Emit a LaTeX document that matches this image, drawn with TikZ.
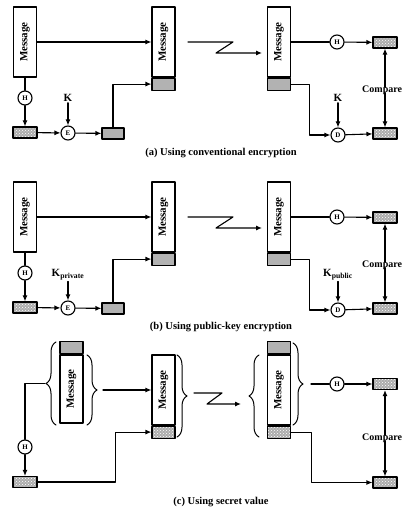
\documentclass[tikz,border=0pt]{standalone}
\usepackage{fontspec}
\setmainfont{Liberation Serif}
\usetikzlibrary{arrows.meta,patterns,decorations.pathreplacing,positioning}

\begin{document}
\begin{tikzpicture}[
    x=1pt, y=-1pt,
    line cap=round,
    line join=round,
    every node/.style={font=\bfseries},
    msgbox/.style={draw, line width=1.1pt, fill=white, minimum width=23pt, inner sep=0pt, font=\bfseries\fontsize{11}{12}\selectfont},
    sigbox/.style={draw, line width=1.1pt, fill=gray!60, minimum width=23pt, minimum height=12pt, inner sep=0pt},
    hashbox/.style={draw, line width=1.1pt, minimum width=24pt, minimum height=11pt, inner sep=0pt,
        preaction={fill=gray!65}, pattern=crosshatch dots, pattern color=white},
    fn/.style={circle, draw, line width=1.1pt, fill=white, minimum size=14pt, inner sep=0pt, font=\bfseries\fontsize{7}{8}\selectfont},
    keylbl/.style={inner sep=1pt, font=\bfseries\fontsize{11}{12}\selectfont},
    cmplbl/.style={inner sep=0pt, anchor=west, font=\bfseries\fontsize{10}{12}\selectfont},
    wire/.style={line width=1.1pt},
    arr/.style={wire, -{Latex[length=6pt,width=5pt]}},
    brc/.style={decorate, decoration={brace, amplitude=10pt}, line width=1pt},
    caption/.style={font=\bfseries\fontsize{10.5}{12}\selectfont}
]
\path[use as bounding box, clip] (0,0) rectangle (404,510);

% (a) conventional encryption
\begin{scope}
  \node[msgbox, minimum height=70pt] (msg1a) at (25,42) {\rotatebox{90}{Message}};
  \node[fn] (h1a) at (25,98) {H};
  \node[hashbox] (hash1a) at (25,132.5) {};
  \node[fn] (ea) at (68,133) {E};
  \node[keylbl] (ka) at (68,98) {K};
  \node[sigbox, minimum width=22pt, minimum height=11pt] (sig1a) at (113,133.5) {};
  \node[msgbox, minimum height=70pt] (msg2a) at (163.5,42) {\rotatebox{90}{Message}};
  \node[sigbox, anchor=north] (sig2a) at (msg2a.south) {};
  \node[msgbox, minimum height=70pt] (msg3a) at (279,42) {\rotatebox{90}{Message}};
  \node[sigbox, anchor=north] (sig3a) at (msg3a.south) {};
  \node[fn] (h3a) at (337,42) {H};
  \node[hashbox] (cmp1a) at (385,42.5) {};
  \node[fn] (da) at (338,135) {D};
  \node[keylbl] (k3a) at (338,98) {K};
  \node[hashbox] (cmp2a) at (385,133.5) {};
  \node[cmplbl] (cmpa) at (362,90) {Compare};
  \node[caption] (capa) at (221,153) {(a) Using conventional encryption};

  \coordinate (za1) at (188,42);
  \coordinate (za2) at (233,42);
  \coordinate (za3) at (216,53);
  \coordinate (za4) at (262,53);

  \draw[arr] (msg1a.east) -- (msg2a.west);
  \draw[wire] (msg1a) -- (h1a);
  \draw[arr] (h1a) -- (hash1a);
  \draw[arr] (hash1a) -- (ea);
  \draw[arr] (ka) -- (ea);
  \draw[arr] (ea) -- (sig1a);
  \draw[arr] (sig1a.north) |- (sig2a.west);
  \draw[arr] (za1) -- (za2) -- (za3) -- (za4);
  \draw[wire] (msg3a.east) -- (h3a);
  \draw[arr] (h3a) -- (cmp1a);
  \draw[arr] (sig3a.east) -- ++(18,0) |- (da);
  \draw[arr] (k3a) -- (da);
  \draw[arr] (da) -- (cmp2a);
  \draw[arr] ([yshift=-2pt]cmp1a |- cmpa.north) -- (cmp1a.south);
  \draw[arr] ([yshift=2pt]cmp2a |- cmpa.south) -- (cmp2a.north);
\end{scope}

% (b) public-key encryption
\begin{scope}[shift={(0,175)}]
  \node[msgbox, minimum height=70pt] (msg1b) at (25,42) {\rotatebox{90}{Message}};
  \node[fn] (h1b) at (25,98) {H};
  \node[hashbox] (hash1b) at (25,132.5) {};
  \node[fn] (eb) at (68,133) {E};
  \node[keylbl] (kb) at (68,100) {K\textsubscript{private}};
  \node[sigbox, minimum width=22pt, minimum height=11pt] (sig1b) at (113,133.5) {};
  \node[msgbox, minimum height=70pt] (msg2b) at (163.5,42) {\rotatebox{90}{Message}};
  \node[sigbox, anchor=north] (sig2b) at (msg2b.south) {};
  \node[msgbox, minimum height=70pt] (msg3b) at (279,42) {\rotatebox{90}{Message}};
  \node[sigbox, anchor=north] (sig3b) at (msg3b.south) {};
  \node[fn] (h3b) at (337,42) {H};
  \node[hashbox] (cmp1b) at (385,42.5) {};
  \node[fn] (db) at (338,135) {D};
  \node[keylbl] (k3b) at (338,100) {K\textsubscript{public}};
  \node[hashbox] (cmp2b) at (385,133.5) {};
  \node[cmplbl] (cmpb) at (362,90) {Compare};
  \node[caption] (capb) at (221,152) {(b) Using public-key encryption};

  \coordinate (zb1) at (188,42);
  \coordinate (zb2) at (233,42);
  \coordinate (zb3) at (216,53);
  \coordinate (zb4) at (262,53);

  \draw[arr] (msg1b.east) -- (msg2b.west);
  \draw[wire] (msg1b) -- (h1b);
  \draw[arr] (h1b) -- (hash1b);
  \draw[arr] (hash1b) -- (eb);
  \draw[arr] (kb) -- (eb);
  \draw[arr] (eb) -- (sig1b);
  \draw[arr] (sig1b.north) |- (sig2b.west);
  \draw[arr] (zb1) -- (zb2) -- (zb3) -- (zb4);
  \draw[wire] (msg3b.east) -- (h3b);
  \draw[arr] (h3b) -- (cmp1b);
  \draw[arr] (sig3b.east) -- ++(18,0) |- (db);
  \draw[arr] (k3b) -- (db);
  \draw[arr] (db) -- (cmp2b);
  \draw[arr] ([yshift=-2pt]cmp1b |- cmpb.north) -- (cmp1b.south);
  \draw[arr] ([yshift=2pt]cmp2b |- cmpb.south) -- (cmp2b.north);
\end{scope}

% (c) secret value
\begin{scope}
  \node[msgbox, minimum height=68pt] (msg1c) at (71.5,389) {\rotatebox{90}{Message}};
  \node[sigbox, anchor=south] (sig1c) at (msg1c.north) {};
  \node[fn] (h1c) at (25,447) {H};
  \node[hashbox] (hash1c) at (25,482) {};
  \node[msgbox, minimum height=70pt] (msg2c) at (163.5,390) {\rotatebox{90}{Message}};
  \node[hashbox, minimum width=23pt, minimum height=12pt, anchor=north] (hash2c) at (msg2c.south) {};
  \node[msgbox, minimum height=70pt] (msg3c) at (279,390) {\rotatebox{90}{Message}};
  \node[sigbox, anchor=south] (sig3c) at (msg3c.north) {};
  \node[hashbox, minimum width=23pt, minimum height=12pt, anchor=north] (hash3c) at (msg3c.south) {};
  \node[fn] (h3c) at (337,384) {H};
  \node[hashbox] (cmp1c) at (385,384) {};
  \node[hashbox] (cmp2c) at (385,482.5) {};
  \node[cmplbl] (cmpc) at (362,438) {Compare};
  \node[caption] (capc) at (221,502) {(c) Using secret value};

  \draw[brc] (56,425) -- (56,342);
  \draw[brc] (87,355) -- (87,425);
  \draw[brc] (177,355) -- (177,437);
  \draw[brc] (259,437) -- (259,355);
  \draw[brc] (293,343) -- (293,425);
  \coordinate (t1c) at (45,383.5);
  \coordinate (t2c) at (103,390);
  \coordinate (t5c) at (311,384);

  \coordinate (zc1) at (194,393);
  \coordinate (zc2) at (222,393);
  \coordinate (zc3) at (207,404);
  \coordinate (zc4) at (241,404);

  \draw[wire] (t1c) -| (h1c);
  \draw[arr] (h1c) -- (hash1c);
  \draw[arr] (t2c) -- (msg2c.west |- t2c);
  \draw[arr] (hash1c.east) -- ++(78,0) |- (hash2c.west);
  \draw[arr] (zc1) -- (zc2) -- (zc3) -- (zc4);
  \draw[wire] (t5c) -- (h3c);
  \draw[arr] (h3c) -- (cmp1c);
  \draw[arr] (hash3c.east) -- ++(20,0) |- (cmp2c);
  \draw[arr] ([yshift=-2pt]cmp1c |- cmpc.north) -- (cmp1c.south);
  \draw[arr] ([yshift=2pt]cmp2c |- cmpc.south) -- (cmp2c.north);
\end{scope}
\end{tikzpicture}
\end{document}
